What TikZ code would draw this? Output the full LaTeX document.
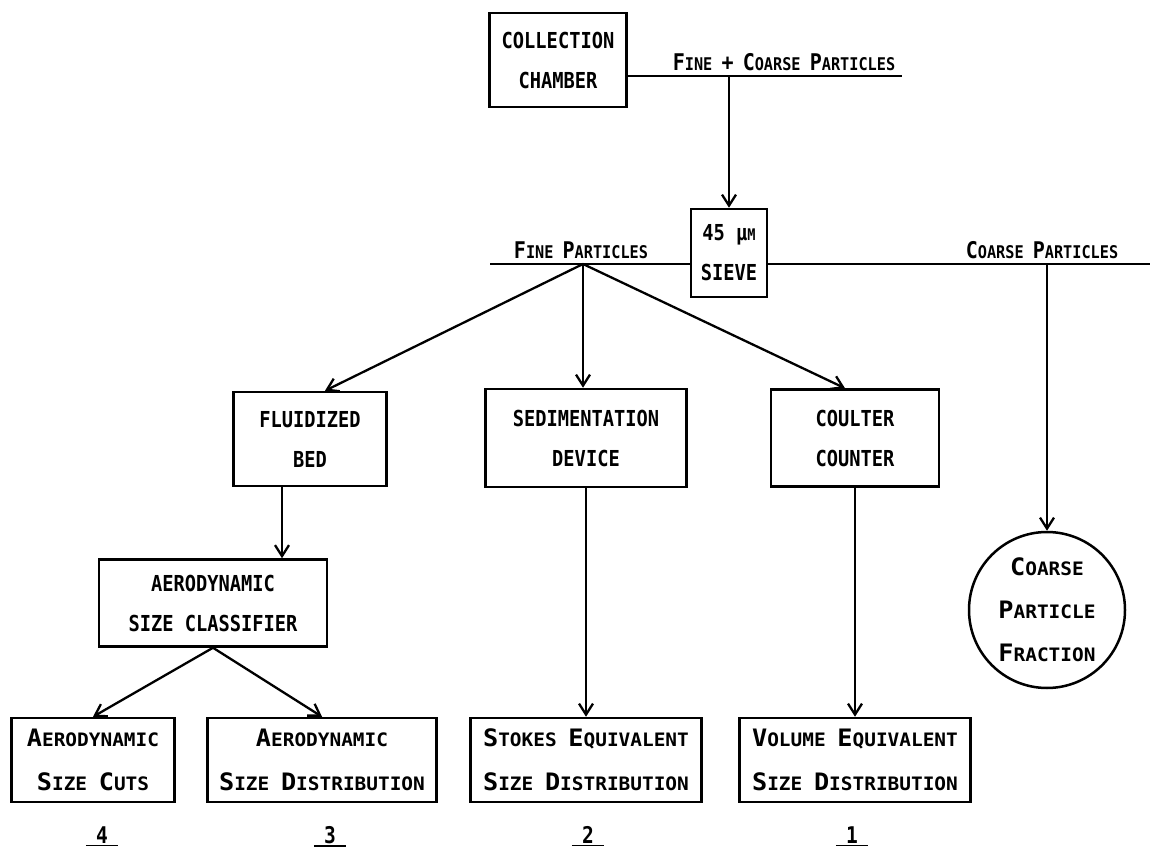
\documentclass[tikz,border=0pt]{standalone}
\usepackage{fontspec}
\setmainfont{DejaVu Sans Mono}
\newfontfamily\bxf{DejaVu Sans Mono}[FakeStretch=0.85]
\newfontfamily\scf{DejaVu Sans Mono}[FakeStretch=0.87]
\newfontfamily\scb{DejaVu Sans Mono}[FakeStretch=1.05]
\usetikzlibrary{arrows.meta,calc}
\newcommand\Lsc[2]{{\fontsize{23}{23}\selectfont #1}{\fontsize{17.5}{17.5}\selectfont #2}}
\newcommand\Bsc[2]{{\fontsize{24}{24}\selectfont #1}{\fontsize{18.5}{18.5}\selectfont #2}}
\begin{document}
\begin{tikzpicture}[x=1pt,y=-1pt, line width=2.3pt,
  bx/.style={draw, line width=2.5pt, rectangle, inner sep=0pt, align=center, font=\bxf\bfseries\fontsize{22}{40}\selectfont},
  sbx/.style={draw, line width=2.5pt, rectangle, inner sep=0pt, align=center, font=\scb\bfseries\fontsize{18.5}{44}\selectfont},
  arr/.style={-{Straight Barb[length=11pt,width=14pt]}},
  lab/.style={inner sep=0pt, anchor=base, font=\scf\bfseries},
  num/.style={inner sep=1pt, font=\bxf\bfseries\fontsize{23}{23}\selectfont, minimum width=30pt}]
\path[use as bounding box] (0,0) rectangle (1160,853);

% nodes
\node[bx, minimum width=137, minimum height=94] (coll) at (558,60) {COLLECTION\\CHAMBER};
\node[bx, minimum width=76, minimum height=88] (sieve) at (729,253) {45 μ{\fontsize{16}{16}\selectfont M}\\SIEVE};
\node[bx, minimum width=153, minimum height=94] (fluid) at (310,439) {FLUIDIZED\\BED};
\node[bx, minimum width=201, minimum height=98] (sed) at (586,438) {SEDIMENTATION\\DEVICE};
\node[bx, minimum width=168, minimum height=97] (coul) at (855,438) {COULTER\\COUNTER};
\node[bx, minimum width=228, minimum height=87] (class) at (213,603) {AERODYNAMIC\\SIZE CLASSIFIER};
\node[sbx, minimum width=163, minimum height=84] (b4) at (93,760) {\Bsc{A}{ERODYNAMIC}\\\Bsc{S}{IZE }\Bsc{C}{UTS}};
\node[sbx, minimum width=229, minimum height=84] (b3) at (322,760) {\Bsc{A}{ERODYNAMIC}\\\Bsc{S}{IZE }\Bsc{D}{ISTRIBUTION}};
\node[sbx, minimum width=231, minimum height=84] (b2) at (586,760) {\Bsc{S}{TOKES }\Bsc{E}{QUIVALENT}\\\Bsc{S}{IZE }\Bsc{D}{ISTRIBUTION}};
\node[sbx, minimum width=231, minimum height=84] (b1) at (855,760) {\Bsc{V}{OLUME }\Bsc{E}{QUIVALENT}\\\Bsc{S}{IZE }\Bsc{D}{ISTRIBUTION}};
\node[draw, line width=2.5pt, circle, minimum size=156, inner sep=0pt, align=center, font=\scb\bfseries\fontsize{18.5}{43}\selectfont] (cpf) at (1047,610) {\Bsc{C}{OARSE}\\\Bsc{P}{ARTICLE}\\\Bsc{F}{RACTION}};

% line labels
\node[lab] (lfc) at (784,71) {\Lsc{F}{INE }\Lsc{+}{ }\Lsc{C}{OARSE }\Lsc{P}{ARTICLES}};
\node[lab] (lfp) at (581,259) {\Lsc{F}{INE }\Lsc{P}{ARTICLES}};
\node[lab] (lcp) at (1042,259) {\Lsc{C}{OARSE }\Lsc{P}{ARTICLES}};

% coordinates
\coordinate (fcR) at (902,76);
\coordinate (fcJ) at (729,76);
\coordinate (fineL) at (490,264);
\coordinate (fineJ) at (583,264);
\coordinate (coarseJ) at (1047,264);
\coordinate (coarseR) at (1150,264);
\coordinate (fbx) at (282,0);

% connectors
\draw (coll.east |- fcR) -- (fcR);
\draw[arr] (fcJ) -- (sieve.north);
\draw (fineL) -- (fineL -| sieve.west);
\draw (sieve.east |- coarseR) -- (coarseR);
\draw[arr] (fineJ) -- ($(fluid.north)+(15,0)$);
\draw[arr] (fineJ) -- (fineJ |- sed.north);
\draw[arr] (fineJ) -- ($(coul.north)+(-10,0)$);
\draw[arr] (coarseJ) -- (cpf.north);
\draw[arr] (fluid.south -| fbx) -- (class.north -| fbx);
\draw[arr] (class.south) -- (b4.north);
\draw[arr] (class.south) -- (b3.north);
\draw[arr] (sed.south) -- (b2.north);
\draw[arr] (coul.south) -- (b1.north);

% numbers
\node[num] (n4) at (102,835) {4};
\node[num] (n3) at (330,835) {3};
\node[num] (n2) at (588,835) {2};
\node[num] (n1) at (852,835) {1};
\draw[line width=1.6pt] (n4.south west) -- (n4.south east);
\draw[line width=1.6pt] (n3.south west) -- (n3.south east);
\draw[line width=1.6pt] (n2.south west) -- (n2.south east);
\draw[line width=1.6pt] (n1.south west) -- (n1.south east);
\end{tikzpicture}
\end{document}
